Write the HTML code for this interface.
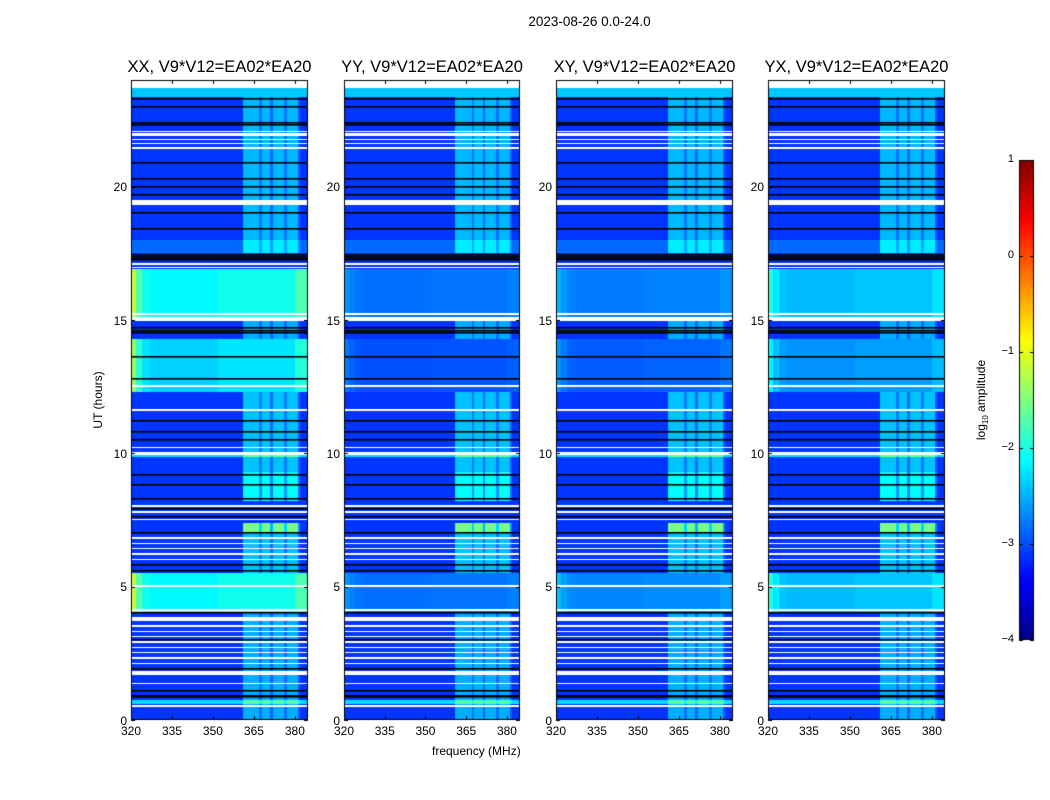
<!DOCTYPE html>
<html><head><meta charset="utf-8"><style>
body{margin:0;background:#fff;font-family:"Liberation Sans",sans-serif;}
#root{position:relative;width:1050px;height:800px;overflow:hidden;background:#fff;}
.t{position:absolute;white-space:nowrap;color:#000;}
canvas{position:absolute;}
</style></head><body>
<div id="root">
<div class="t" style="left:0;width:1179px;text-align:center;top:14px;font-size:13.5px;">2023-08-26 0.0-24.0</div>
<canvas id="cv" width="1050" height="800" style="left:0;top:0"></canvas>
<div class="t" style="left:98px;top:400px;font-size:12px;transform:translate(-50%,-50%) rotate(-90deg);">UT (hours)</div>
<div class="t" style="left:432px;top:744px;font-size:12px;">frequency (MHz)</div>
<div class="t" style="left:982px;top:400px;font-size:12px;transform:translate(-50%,-50%) rotate(-90deg);">log<sub style="font-size:8px">10</sub> amplitude</div>
</div>
<script>
const panelTitles=["XX, V9*V12=EA02*EA20","YY, V9*V12=EA02*EA20","XY, V9*V12=EA02*EA20","YX, V9*V12=EA02*EA20"];
const freqMin=320, freqMax=384.8, hourMin=0, hourMax=24;
const xTicks=[320,335,350,365,380];
const yTicks=[0,5,10,15,20];
const cbTicks=[-4,-3,-2,-1,0,1];
const baseDefault=-3.12;
const baseLevels=[[23.35,23.7,-2.4],[0.6,0.75,-2.3],[9.85,9.95,-2.3],[17.5,18.0,-2.85]];
const broadIntervals=[[15.05,16.9],[12.3,14.3],[4.0,5.5]];
const broadXX=[-2.25,-2.45,-2.25];
const broadYY=[-2.85,-3.0,-2.85];
const broadXY=[-2.8,-2.95,-2.75];
const broadYX=[-2.5,-2.7,-2.5];
const edgeWeight=[1.0,0.2,0.3,0.5];
const bandLevels=[[0,4,0.6],[5.5,7,0.7],[7,7.4,1.6],[8.2,9.3,1.0],[9.3,12.3,0.7],[14.3,15,0.6],[17.5,23.35,0.65]];
const bandProfile=[0,0,0,0,0,0,0,0,0,0,0,0,0,0,0,0,0,0,0,0,0,0,0,0,0,0,0,0,0,0,0,0,0,0,0,0,0,0,0,0,0,1,1,1,1,1,1,0.5,1,1,1,0.4,1,1,1,1,0.5,1,1,1,1,0.3,0,0,0];
const edgeProfile=[1.2,1.0,0.5,0.6,0.2,0.2,0.2,0.1,0.1,0.1,0.1,0.1,0.1,0.1,0.1,0.1,0.1,0.1,0.1,0.1,0.1,0.1,0.1,0.1,0.1,0.1,0.1,0.1,0.1,0.1,0.1,0.1,0.2,0.2,0.2,0.2,0.2,0.2,0.2,0.2,0.2,0.2,0.2,0.2,0.2,0.2,0.2,0.2,0.2,0.2,0.2,0.2,0.2,0.2,0.2,0.2,0.2,0.2,0.2,0.2,0.5,0.5,0.5,0.5,0.5];
const whiteFlags=[[23.7,24],[21.4,21.5],[21.6,21.65],[21.75,21.8],[21.9,22.0],[22.05,22.1],[19.3,19.5],[17.05,17.15],[16.95,17.0],[15.0,15.1],[15.2,15.25],[14.95,15.0],[12.5,12.55],[11.6,11.65],[9.95,10.05],[10.2,10.25],[8.0,8.05],[7.75,7.85],[7.5,7.55],[6.0,6.05],[6.2,6.25],[6.4,6.45],[6.6,6.65],[6.8,6.85],[5.0,5.05],[4.1,4.15],[3.7,3.85],[3.5,3.55],[3.3,3.35],[3.1,3.15],[2.9,2.95],[2.7,2.75],[2.5,2.55],[2.3,2.35],[2.1,2.15],[1.7,1.85],[1.35,1.4],[0.5,0.55]];
const blackLines=[23.3,23.0,22.4,22.3,20.9,20.3,20.0,19.7,19.0,18.4,17.25,17.3,17.35,17.45,14.6,14.5,14.7,13.6,12.8,11.2,10.8,10.5,9.2,8.8,8.3,7.9,7.6,7.0,5.8,5.6,4.0,3.0,1.9,1.1,0.9,0.85];
const broadByPanel=[broadXX,broadYY,broadXY,broadYX];

const panels=[[131,308],[344,520],[556,733],[768,945]];
const top_=80,bot=720;
const cb={x0:1019,x1:1034,y0:160,y1:640};
function yOf(h){return bot-(h-hourMin)/(hourMax-hourMin)*(bot-top_);}
function hOf(y){return hourMin+(bot-y)/(bot-top_)*(hourMax-hourMin);}
function xOf(p,f){const[a,b]=panels[p];return a+(f-freqMin)/(freqMax-freqMin)*(b-a);}
function jet(v){v=Math.max(0,Math.min(1,v));
 const r=Math.max(0,Math.min(1,1.5-Math.abs(4*v-3)));
 const g=Math.max(0,Math.min(1,1.5-Math.abs(4*v-2)));
 const b=Math.max(0,Math.min(1,1.5-Math.abs(4*v-1)));
 return [r*255|0,g*255|0,b*255|0];}
function val(p,h,f){
 let v=baseDefault;
 for(const[s,e,l]of baseLevels) if(h>=s&&h<e) v=l;
 let edge=0;
 broadIntervals.forEach((iv,i)=>{if(h>=iv[0]&&h<iv[1]){v=Math.max(v,broadByPanel[p][i]);edge=edgeWeight[p];}});
 const fi=Math.max(0,Math.min(bandProfile.length-1,Math.floor(f-freqMin)));
 let band=0; for(const[s,e,l]of bandLevels) if(h>=s&&h<e) band=l;
 return v+band*bandProfile[fi]+edge*edgeProfile[fi];
}
const cv=document.getElementById('cv');const ctx=cv.getContext('2d');
const img=ctx.createImageData(1050,800);
panels.forEach(([a,b],p)=>{
 for(let y=top_;y<bot;y++){const h=hOf(y+0.5);
  let white=false; for(const[s,e]of whiteFlags) if(h>=s&&h<e) white=true;
  for(let x=a;x<b;x++){const f=freqMin+(x+0.5-a)/(b-a)*(freqMax-freqMin);
   let c=white?[255,255,255]:jet((val(p,h,f)+4)/5);
   const i=(y*1050+x)*4;img.data[i]=c[0];img.data[i+1]=c[1];img.data[i+2]=c[2];img.data[i+3]=255;}}
});
for(let y=cb.y0;y<cb.y1;y++){const c=jet((cb.y1-y)/(cb.y1-cb.y0));
 for(let x=cb.x0;x<cb.x1;x++){const i=(y*1050+x)*4;img.data[i]=c[0];img.data[i+1]=c[1];img.data[i+2]=c[2];img.data[i+3]=255;}}
ctx.putImageData(img,0,0);
ctx.fillStyle='#000';
panels.forEach(([a,b],p)=>{
 for(const h of blackLines){ctx.fillRect(a,Math.round(yOf(h))-1,b-a,1.6);}
 ctx.strokeStyle='#000';ctx.lineWidth=1;ctx.strokeRect(a+0.5,top_+0.5,b-a-1,bot-top_-1);
 for(const t of xTicks){const x=Math.round(xOf(p,t))+0.5;ctx.beginPath();ctx.moveTo(x,bot);ctx.lineTo(x,bot-4);ctx.moveTo(x,top_);ctx.lineTo(x,top_+4);ctx.stroke();}
 for(const t of yTicks){const y=Math.round(yOf(t))+0.5;ctx.beginPath();ctx.moveTo(a,y);ctx.lineTo(a+4,y);ctx.moveTo(b,y);ctx.lineTo(b-4,y);ctx.stroke();}
});
ctx.strokeRect(cb.x0+0.5,cb.y0+0.5,cb.x1-cb.x0-1,cb.y1-cb.y0-1);
const root=document.getElementById('root');
function addText(txt,x,y,size,align,name){
 const d=document.createElement('div');d.className='t';d.textContent=txt;
 d.style.fontSize=size+'px';d.style.top=(y-size*0.6)+'px';
 if(align==='c'){d.style.left=(x-100)+'px';d.style.width='200px';d.style.textAlign='center';}
 else if(align==='r'){d.style.left=(x-60)+'px';d.style.width='60px';d.style.textAlign='right';}
 else d.style.left=x+'px';
 
 
 root.appendChild(d);}
panels.forEach(([a,b],p)=>{
 addText(panelTitles[p],(a+b)/2,68,16.5,'c','panel-title');
 for(const t of xTicks) addText(String(t),xOf(p,t),731,12,'c','x-tick-label');
 for(const t of yTicks) addText(String(t),a-4,yOf(t)+1,12,'r','y-tick-label');
});
for(const t of cbTicks){const y=cb.y1-(t+4)/5*(cb.y1-cb.y0);
 addText(t<0?'\u2212'+(-t):String(t),1014,y,11,'r','colorbar-tick-label');
 ctx.beginPath();ctx.moveTo(cb.x0,y+0.5);ctx.lineTo(cb.x0+4,y+0.5);ctx.moveTo(cb.x1,y+0.5);ctx.lineTo(cb.x1-4,y+0.5);ctx.stroke();}
</script>
</body></html>
